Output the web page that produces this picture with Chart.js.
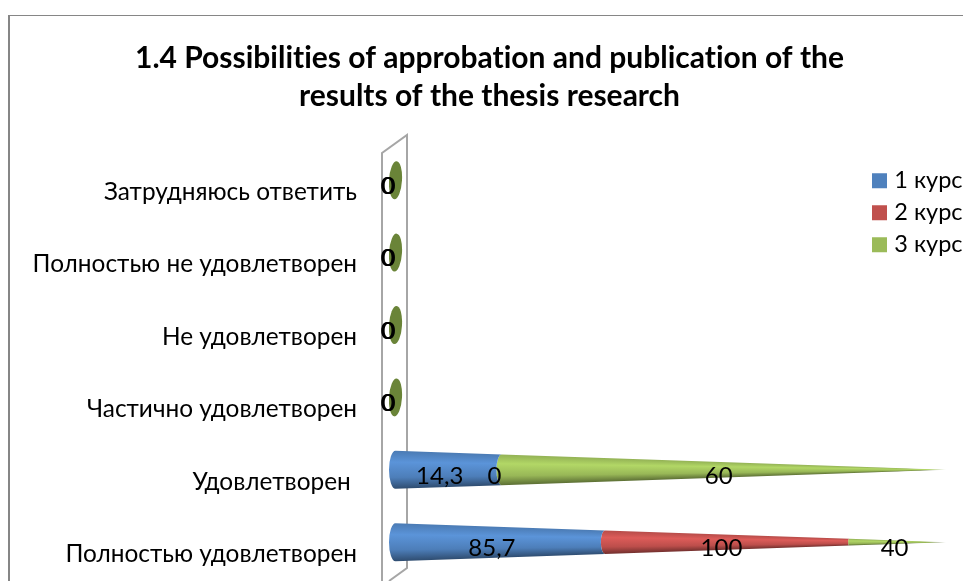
<!DOCTYPE html>
<html><head><meta charset="utf-8">
<style>html,body{margin:0;padding:0;background:#fff;overflow:hidden}#w{width:963px;height:581px}</style>
<script src="https://cdn.jsdelivr.net/npm/chart.js@4/dist/chart.umd.js"></script>
</head><body><div id="w"><canvas id="c" width="963" height="581"></canvas></div>
<script>
const titleLines = ['1.4 Possibilities of approbation and publication of the','results of the thesis research'];
const categories = ['Затрудняюсь ответить','Полностью не удовлетворен','Не удовлетворен','Частично удовлетворен','Удовлетворен ','Полностью удовлетворен'];
const course1 = [0,0,0,0,14.3,85.7];
const course2 = [0,0,0,0,0,100];
const course3 = [0,0,0,0,60,40];
const seriesNames = ['1 курс','2 курс','3 курс'];
const seriesColors = ['#4f81bd','#c0504d','#9bbb59'];
const zeroColor = '#6a8438';

const raw = [course1,course2,course3];
const totals = categories.map((_,i)=>raw.reduce((s,a)=>s+a[i],0));
const share = a => a.map((v,i)=>totals[i]?v/totals[i]*100:0);

const TILT = 0.342;
const shadeStops = [[-1,0.95],[-0.4,1.15],[0.4,0.98],[1,0.6]];
function shade(hex,m){
  const n=parseInt(hex.slice(1),16);
  const c=[n>>16,(n>>8)&255,n&255].map(v=>Math.min(255,Math.round(v*m)));
  return `rgb(${c[0]},${c[1]},${c[2]})`;
}
Chart.BarElement.prototype.draw = function(ctx){
  const info=this.coneInfo; if(!info) return;
  const xs=info.chart.scales.x;
  const p0=Math.min(this.x,this.base), p1=Math.max(this.x,this.base), y=this.y, R=this.height/2;
  const color=this.options.backgroundColor;
  const start=xs.getPixelForValue(0), tip=xs.getPixelForValue(100);
  const W=tip-(start+TILT*R), A=R/W;
  const rad=p=>A*(tip-p)/(1+A*TILT);
  ctx.save();
  if(p1-p0<0.01){
    if(totals[info.index]===0&&info.dataset===2){
      ctx.fillStyle=zeroColor;ctx.beginPath();
      ctx.ellipse(p0+TILT*R,y,TILT*R,R,0.06,0,Math.PI*2);ctx.fill();
    }
    ctx.restore();return;
  }
  const r0=rad(p0), r1=rad(p1);
  ctx.beginPath();
  ctx.moveTo(p0+TILT*r0,y-r0);
  ctx.lineTo(p1+TILT*r1,y-r1);
  ctx.ellipse(p1+TILT*r1,y,Math.max(TILT*r1,0.001),Math.max(r1,0.001),0,-Math.PI/2,Math.PI/2,true);
  ctx.lineTo(p0+TILT*r0,y+r0);
  ctx.ellipse(p0+TILT*r0,y,TILT*r0,r0,0,Math.PI/2,Math.PI*1.5,false);
  ctx.closePath();
  ctx.clip();
  const grad=ctx.createLinearGradient(0,-1,0,1);
  shadeStops.forEach(([f,m])=>grad.addColorStop((f+1)/2,shade(color,m)));
  const rr=x=>Math.max(A*(tip-x),0.01);
  const xa=Math.floor(p0-1), xb=Math.ceil(Math.min(p1+TILT*r1+1,tip));
  for(let x=xa;x<xb;x++){
    ctx.save();
    ctx.translate(x,y);
    ctx.scale(1,rr(x+0.5));
    ctx.fillStyle=grad;
    ctx.fillRect(0,-1.3,1,2.6);
    ctx.restore();
  }
  ctx.restore();
};

const framePlugin = {id:'frame',
  beforeDraw(chart){
    const c=chart.ctx;
    c.textRendering='optimizeSpeed';
    c.save();
    c.fillStyle='#fff';c.fillRect(0,0,963,581);
    c.strokeStyle='#868686';c.lineWidth=1;
    c.beginPath();c.moveTo(963,15.5);c.lineTo(9,15.5);c.stroke();
    c.lineWidth=2;c.beginPath();c.moveTo(9,15);c.lineTo(9,581);c.stroke();
    c.restore();
  },
  beforeDatasetsDraw(chart){
    raw.forEach((_,d)=>chart.getDatasetMeta(d).data.forEach((el,i)=>{el.coneInfo={chart,dataset:d,index:i};}));
    const c=chart.ctx;c.save();
    c.strokeStyle='#a6a6a6';c.lineWidth=2;c.lineJoin='miter';
    c.beginPath();
    c.moveTo(382,581);c.lineTo(382,153);c.lineTo(407,135);c.lineTo(407,568);c.lineTo(389,581);
    c.stroke();c.restore();
  }
};
const labelPlugin = {id:'vals',
  afterDatasetsDraw(chart){
    const c=chart.ctx;c.save();
    c.font='24px Lato';c.fillStyle='#000';c.textAlign='center';c.textBaseline='middle';
    raw.forEach((arr,d)=>{
      chart.getDatasetMeta(d).data.forEach((el,i)=>{
        const w=Math.abs(el.x-el.base), mid=(el.x+el.base)/2;
        const dx=w<0.01?(totals[i]===0?-1.6+d*0.6:-2):-3;
        c.fillText(String(arr[i]).replace('.',','),mid+dx,el.y+6);
      });
    });
    c.restore();
  }
};
const legendPlugin = {id:'placeLegend',
  afterLayout(chart){ const l=chart.legend; l.left=868; l.top=160.5; l.right=963; l.bottom=300; l.width=95; l.height=140; }
};
new Chart(document.getElementById('c'),{
  type:'bar',
  data:{labels:categories,datasets:raw.map((a,i)=>({label:seriesNames[i],data:share(a),backgroundColor:seriesColors[i],borderColor:seriesColors[i],borderWidth:9,
    categoryPercentage:1,barPercentage:0.525}))},
  plugins:[framePlugin,labelPlugin,legendPlugin],
  options:{
    indexAxis:'y',responsive:false,animation:false,
    layout:{padding:{left:32,right:16,top:0,bottom:2.6}},
    scales:{
      x:{display:false,stacked:true,min:0,max:100},
      y:{stacked:true,grid:{display:false,drawTicks:false},border:{display:false},
        afterFit(s){s.width=357;s.paddingTop=0;s.paddingBottom=0;},
        ticks:{color:'#000',padding:32,labelOffset:12,font:{family:'Lato',size:24.4},autoSkip:false,maxRotation:0,minRotation:0}}
    },
    plugins:{
      tooltip:{enabled:false},
      title:{display:true,text:titleLines,color:'#000',font:{family:'Lato',size:30,weight:'bold',lineHeight:38/30},padding:{top:39,bottom:29}},
      legend:{position:'chartArea',align:'start',labels:{color:'#000',boxWidth:6,boxHeight:6,padding:8.5,font:{family:'Lato',size:23.5}}}
    }
  }
});
</script></body></html>
